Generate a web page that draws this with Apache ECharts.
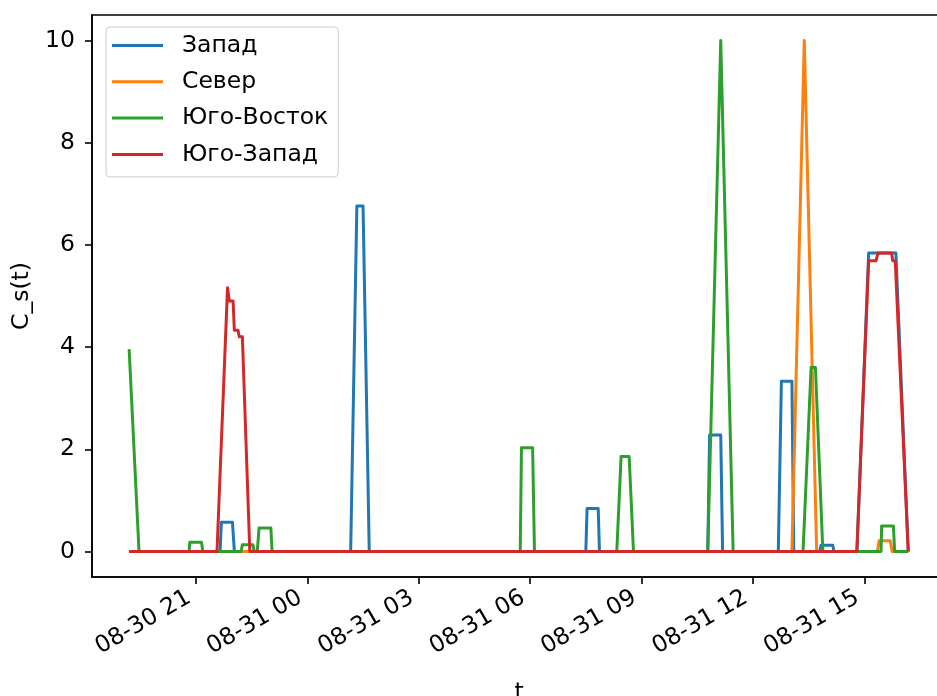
<!DOCTYPE html>
<html>
<head>
<meta charset="utf-8">
<script src="https://cdn.jsdelivr.net/npm/echarts@6/dist/echarts.min.js"></script>
<style>
  html, body { margin: 0; padding: 0; background: #fff; }
  #chart { width: 937px; height: 696px; }
</style>
</head>
<body>
<div id="chart"></div>
<script>
// series names
var names = ['Запад', 'Север', 'Юго-Восток', 'Юго-Запад'];

// Запад
var zapadT = ['2019-08-30 19:12', '2019-08-30 21:39', '2019-08-30 21:41', '2019-08-30 21:59', '2019-08-30 22:02',
  '2019-08-31 01:10', '2019-08-31 01:20', '2019-08-31 01:30', '2019-08-31 01:40',
  '2019-08-31 07:30', '2019-08-31 07:32', '2019-08-31 07:50', '2019-08-31 07:52',
  '2019-08-31 10:47', '2019-08-31 10:50', '2019-08-31 11:08', '2019-08-31 11:11',
  '2019-08-31 12:41', '2019-08-31 12:46', '2019-08-31 13:03', '2019-08-31 13:06',
  '2019-08-31 13:48', '2019-08-31 13:50', '2019-08-31 14:09', '2019-08-31 14:11',
  '2019-08-31 14:48', '2019-08-31 15:07', '2019-08-31 15:51', '2019-08-31 16:11'];
var zapadV = [0, 0, 0.57, 0.57, 0, 0, 6.76, 6.76, 0, 0, 0.84, 0.84, 0, 0, 2.28, 2.28, 0,
  0, 3.33, 3.33, 0, 0, 0.12, 0.12, 0, 0, 5.84, 5.84, 0];

// Север
var severT = ['2019-08-30 19:12', '2019-08-31 13:03', '2019-08-31 13:23', '2019-08-31 13:43',
  '2019-08-31 15:21', '2019-08-31 15:24', '2019-08-31 15:42', '2019-08-31 15:45', '2019-08-31 16:11'];
var severV = [0, 0, 10, 0, 0, 0.21, 0.21, 0, 0];

// Юго-Восток
var ugoVostokT = ['2019-08-30 19:12', '2019-08-30 19:28',
  '2019-08-30 20:49', '2019-08-30 20:50', '2019-08-30 21:09', '2019-08-30 21:11',
  '2019-08-30 22:13', '2019-08-30 22:15', '2019-08-30 22:32', '2019-08-30 22:34',
  '2019-08-30 22:39', '2019-08-30 22:42', '2019-08-30 23:01', '2019-08-30 23:03',
  '2019-08-31 05:44', '2019-08-31 05:46', '2019-08-31 06:04', '2019-08-31 06:07',
  '2019-08-31 08:20', '2019-08-31 08:27', '2019-08-31 08:40', '2019-08-31 08:47',
  '2019-08-31 10:47', '2019-08-31 11:08', '2019-08-31 11:28',
  '2019-08-31 13:21', '2019-08-31 13:34', '2019-08-31 13:41', '2019-08-31 13:53',
  '2019-08-31 15:27', '2019-08-31 15:28', '2019-08-31 15:47', '2019-08-31 15:49',
  '2019-08-31 16:11'];
var ugoVostokV = [3.96, 0, 0, 0.18, 0.18, 0, 0, 0.13, 0.13, 0, 0, 0.46, 0.46, 0,
  0, 2.03, 2.03, 0, 0, 1.86, 1.86, 0, 0, 10, 0, 0, 3.6, 3.6, 0, 0, 0.5, 0.5, 0, 0];

// Юго-Запад
var ugoZapadT = ['2019-08-30 19:12', '2019-08-30 21:34', '2019-08-30 21:51', '2019-08-30 21:54',
  '2019-08-30 22:00', '2019-08-30 22:02', '2019-08-30 22:08', '2019-08-30 22:10', '2019-08-30 22:15',
  '2019-08-30 22:27', '2019-08-31 14:48', '2019-08-31 15:07', '2019-08-31 15:19', '2019-08-31 15:22',
  '2019-08-31 15:44', '2019-08-31 15:46', '2019-08-31 15:50', '2019-08-31 16:11'];
var ugoZapadV = [0, 0, 5.16, 4.9, 4.9, 4.33, 4.33, 4.2, 4.2, 0, 0, 5.69, 5.69, 5.84, 5.84, 5.69, 5.69, 0];

// оси
var tickTimes = ['2019-08-30 21:00', '2019-08-31 00:00', '2019-08-31 03:00', '2019-08-31 06:00',
  '2019-08-31 09:00', '2019-08-31 12:00', '2019-08-31 15:00'];
var tickLabels = ['08-30 21', '08-31 00', '08-31 03', '08-31 06', '08-31 09', '08-31 12', '08-31 15'];
var yTicks = [0, 2, 4, 6, 8, 10];

var colors = ['#1f77b4', '#ff7f0e', '#2ca02c', '#d62728'];
var font = 'DejaVu Sans';
var fs = 23.5;

function ts(s) { return +echarts.time.parse(s); }
function pairs(t, v) {
  return t.map(function (s, i) { return [ts(s), v[i]]; });
}
var tickNums = tickTimes.map(ts);

var chart = echarts.init(document.getElementById('chart'));

var seriesData = [pairs(zapadT, zapadV), pairs(severT, severV),
  pairs(ugoVostokT, ugoVostokV), pairs(ugoZapadT, ugoZapadV)];

var option = {
  animation: false,
  color: colors,
  textStyle: { fontFamily: font },
  grid: {
    left: 92, top: 15, right: -9, bottom: 119,
    outerBoundsMode: 'none',
    show: true, borderColor: '#000', borderWidth: 1.6, backgroundColor: 'transparent'
  },
  legend: {
    orient: 'vertical',
    left: 106, top: 27,
    data: names,
    icon: 'rect',
    itemWidth: 51, itemHeight: 3,
    itemGap: 9.3,
    padding: [5, 10, 9, 6],
    backgroundColor: 'rgba(255,255,255,0.8)',
    borderColor: '#cccccc', borderWidth: 1, borderRadius: 4,
    textStyle: { fontFamily: font, fontSize: fs, color: '#000', lineHeight: 27, padding: [0, 0, 0, 14] }
  },
  xAxis: {
    type: 'value',
    min: ts('2019-08-30 18:12'),
    max: ts('2019-08-31 17:12'),
    name: 't',
    nameLocation: 'middle',
    nameGap: 104,
    nameTextStyle: { fontFamily: font, fontSize: fs, color: '#000' },
    axisLine: { show: true, onZero: false, lineStyle: { color: '#000', width: 1.6 } },
    axisTick: { show: true, length: 7, lineStyle: { color: '#000', width: 1.6 }, customValues: tickNums },
    axisLabel: {
      customValues: tickNums,
      rotate: 30,
      margin: 15,
      padding: [0, 8, 0, 0],
      fontFamily: font, fontSize: fs, color: '#000',
      formatter: function (val) {
        var i = tickNums.indexOf(+val);
        return i >= 0 ? tickLabels[i] : '';
      }
    },
    splitLine: { show: false }
  },
  yAxis: {
    type: 'value',
    min: -0.5, max: 10.5,
    name: 'C_s(t)',
    nameLocation: 'middle',
    nameGap: 55,
    nameTextStyle: { fontFamily: font, fontSize: fs, color: '#000' },
    axisLine: { show: true, onZero: false, lineStyle: { color: '#000', width: 1.6 } },
    axisTick: { show: true, length: 7, lineStyle: { color: '#000', width: 1.6 }, customValues: yTicks },
    axisLabel: { customValues: yTicks, margin: 17, fontFamily: font, fontSize: fs, color: '#000' },
    splitLine: { show: false }
  },
  series: names.map(function (n, i) {
    return {
      name: n,
      type: 'line',
      data: seriesData[i],
      showSymbol: false,
      symbol: 'none',
      lineStyle: { width: 3, join: 'round' }
    };
  })
};

chart.setOption(option);
</script>
</body>
</html>
